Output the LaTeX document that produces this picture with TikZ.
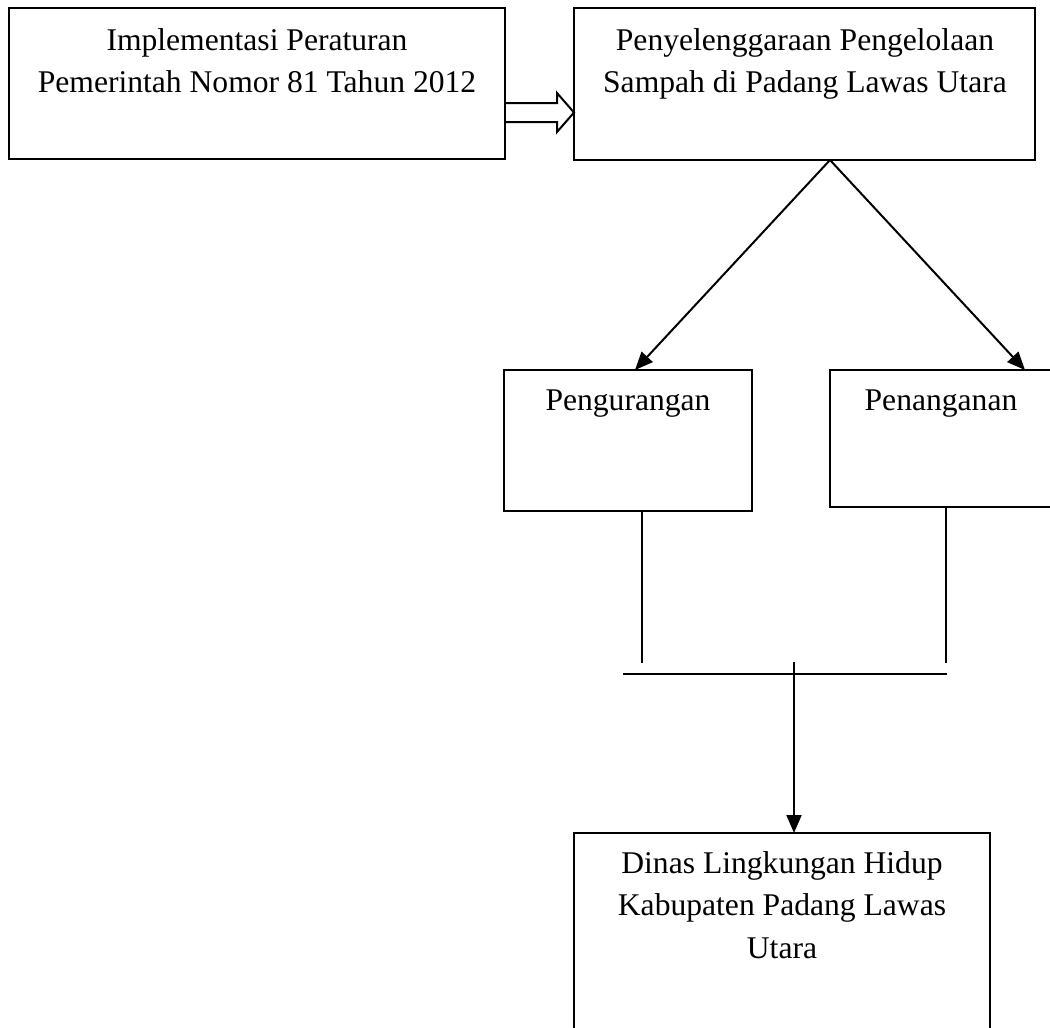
\documentclass[tikz,border=0pt]{standalone}
\usepackage{fontspec}
\setmainfont{Liberation Serif}
\usetikzlibrary{arrows.meta}
\begin{document}
\begin{tikzpicture}[x=0.5pt,y=-0.5pt,
  box/.style={draw, line width=1pt, inner sep=0pt, outer sep=0pt, rectangle},
  txt/.style={anchor=base, inner sep=0pt, font=\fontsize{15.8}{21.25}\selectfont},
  conn/.style={line width=1pt},
  arr/.style={conn, -{Triangle[length=9pt,width=7.5pt]}},
  hollow/.style={line width=1pt, line join=miter}]
\useasboundingbox (0,0) rectangle (1050,1028);
\clip (0,0) rectangle (1050,1028);
% boxes
\node[box, minimum width=248pt, minimum height=75.5pt] (b1) at (257,83.5) {};
\node[box, minimum width=230.5pt, minimum height=76pt] (b2) at (804.5,84) {};
\node[box, minimum width=124pt, minimum height=70.5pt] (p1) at (628,440.5) {};
\node[box, minimum width=112pt, minimum height=68.5pt] (p2) at (942,438.5) {};
\node[box, minimum width=208pt, minimum height=106pt] (b3) at (782,939) {};
% texts
\node[txt] (t1a) at (257,50) {Implementasi Peraturan};
\node[txt] (t1b) at (257,92) {Pemerintah Nomor 81 Tahun 2012};
\node[txt] (t2a) at (805,50) {Penyelenggaraan Pengelolaan};
\node[txt] (t2b) at (805,92) {Sampah di Padang Lawas Utara};
\node[txt] (t3) at (628,410) {Pengurangan};
\node[txt] (t4) at (941,410) {Penanganan};
\node[txt] (t5a) at (782,873) {Dinas Lingkungan Hidup};
\node[txt] (t5b) at (782,915) {Kabupaten Padang Lawas};
\node[txt] (t5c) at (782,958) {Utara};
% hollow arrow
\coordinate (ha) at (557,103);
\coordinate (hb) at (557,93);
\coordinate (hc) at (557,132);
\coordinate (hd) at (557,122);
\draw[hollow] (b1.east |- ha) -- (ha) -- (hb) -- (b2.west |- 0,112.5) -- (hc) -- (hd) -- (b1.east |- hd);
% diagonal arrows
\draw[arr] ([xshift=12.75pt]b2.south) -- ([xshift=3.5pt]p1.north);
\draw[arr] ([xshift=12.75pt]b2.south) -- ([xshift=41.5pt]p2.north);
% lines below
\draw[conn] ([xshift=7pt]p1.south) -- ++(0,152);
\draw[conn] ([xshift=2pt]p2.south) -- ++(0,156);
\coordinate (hl) at (623,674);
\coordinate (hr) at (947,674);
\draw[conn] (hl) -- (hr);
\coordinate (vtop) at (794,662);
\draw[arr] (vtop) -- (vtop |- b3.north);
\end{tikzpicture}
\end{document}
